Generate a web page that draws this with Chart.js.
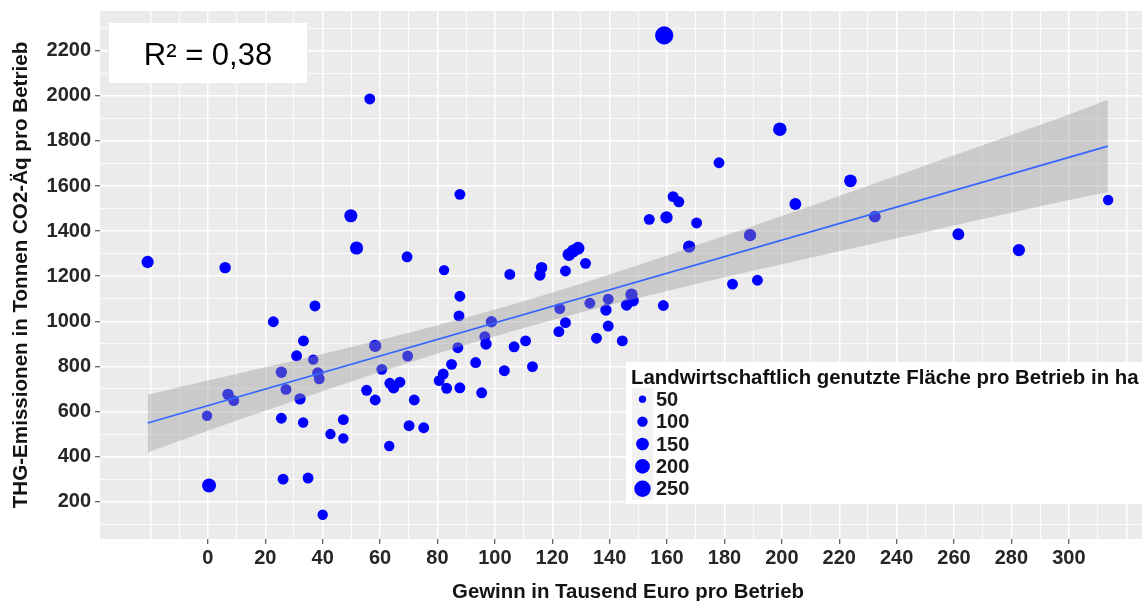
<!DOCTYPE html>
<html>
<head>
<meta charset="utf-8">
<script src="https://cdn.jsdelivr.net/npm/chart.js@4.4.1/dist/chart.umd.min.js"></script>
<style>
  html, body { margin: 0; padding: 0; background: #ffffff; }
  #c { display: block; }
</style>
</head>
<body>
<canvas id="c" width="1142" height="601"></canvas>
<script>
// Profit per farm (thousand EUR)
const profit = [
  -21, 6, -0.3, 0.4, 7, 9, 22.8, 25.6, 25.6, 26.2,
  27.2, 30.9, 33.3, 32.1, 33.2, 34.9, 37.3, 36.7, 38.3, 38.8,
  40, 42.7, 47.2, 47.2, 49.8, 51.8, 55.3, 56.4, 58.3, 58.3,
  60.6, 63.2, 63.4, 64.7, 66.9, 69.4, 69.6, 70.1, 71.9, 75.2,
  80.6, 82, 82.3, 83.2, 84.9, 87.1, 87.5, 87.8, 87.8, 87.8,
  93.3, 95.4, 96.5, 96.9, 98.8, 103.3, 105.2, 106.7, 110.7, 113.1,
  115.7, 116.3, 122.3, 122.6, 124.6, 124.6, 125.8, 127.3, 129, 131.6,
  133.1, 135.4, 138.7, 139.5, 139.5, 144.4, 145.9, 147.6, 148.2, 153.8,
  158.7, 159, 159.8, 162.1, 164.1, 167.7, 170.3, 178.1, 182.8, 188.9,
  191.5, 199.3, 204.7, 223.9, 232.4, 261.5, 282.6, 313.7
];
// GHG emissions per farm (t CO2-eq)
const emissions = [
  1263, 1238, 581, 272, 676, 648, 998, 774, 570, 300,
  698, 847, 913, 656, 551, 305, 1068, 830, 771, 745,
  142, 500, 564, 481, 1468, 1325, 694, 1986, 891, 651,
  787, 447, 725, 705, 730, 1286, 846, 537, 651, 528,
  737, 766, 1227, 703, 809, 883, 1024, 1111, 1563, 705,
  817, 683, 932, 899, 998, 781, 1208, 887, 913, 799,
  1205, 1238, 954, 1056, 994, 1223, 1296, 1312, 1324, 1257,
  1080, 925, 1050, 1098, 979, 913, 1072, 1118, 1091, 1452,
  1070, 2268, 1461, 1553, 1530, 1331, 1436, 1703, 1165, 1382,
  1182, 1852, 1520, 1623, 1464, 1386, 1316, 1538
];
// Agricultural area per farm (ha)
const area = [
  140, 120, 100, 180, 120, 110, 110, 120, 110, 110,
  110, 110, 110, 120, 100, 110, 110, 100, 120, 110,
  100, 100, 110, 100, 160, 160, 110, 110, 140, 110,
  110, 100, 110, 120, 110, 110, 110, 110, 110, 110,
  110, 110, 100, 110, 110, 110, 110, 110, 110, 110,
  110, 110, 110, 120, 120, 110, 110, 110, 110, 110,
  120, 120, 110, 110, 110, 110, 150, 150, 150, 110,
  110, 110, 120, 110, 110, 110, 120, 140, 120, 110,
  110, 310, 140, 110, 110, 140, 110, 110, 110, 140,
  110, 170, 130, 150, 130, 130, 140, 100
];

// Linear fit and its confidence band
const fitX = [-21, 313.6];
const fitY = [549, 1777];
const bandX    = [-21, 0, 20, 40, 60, 80, 100, 120, 140, 160, 180, 200, 220, 240, 260, 280, 300, 313.6];
const bandLow  = [418, 515, 603, 690, 775, 857, 934, 1005, 1072, 1134, 1195, 1253, 1311, 1368, 1425, 1481, 1538, 1572];
const bandHigh = [674, 737, 796, 855, 917, 982, 1052, 1128, 1208, 1292, 1379, 1467, 1556, 1645, 1736, 1826, 1917, 1984];

// Axis labels
const xTickLabels = [0, 20, 40, 60, 80, 100, 120, 140, 160, 180, 200, 220, 240, 260, 280, 300];
const yTickLabels = [200, 400, 600, 800, 1000, 1200, 1400, 1600, 1800, 2000, 2200];
const legendSizes = [50, 100, 150, 200, 250];
const xTitle = 'Gewinn in Tausend Euro pro Betrieb';
const yTitle = 'THG-Emissionen in Tonnen CO2-Äq pro Betrieb';
const legendTitle = 'Landwirtschaftlich genutzte Fläche pro Betrieb in ha';

const xGrid = [];
for (let v = -20; v <= 320; v += 10) xGrid.push(v);
const yGrid = [];
for (let v = 100; v <= 2300; v += 100) yGrid.push(v);

const FONT = "'Liberation Sans', Arial, Helvetica, sans-serif";
Chart.defaults.font.family = FONT;

// point radius from area (area-proportional size scale)
const radiusOf = a => Math.sqrt(0.27 * a);

const pts = profit.map((x, i) => ({ x: x, y: emissions[i] }));
const line = fitX.map((x, i) => ({ x: x, y: fitY[i] }));
const hi = bandX.map((x, i) => ({ x: x, y: bandHigh[i] }));
const lo = bandX.map((x, i) => ({ x: x, y: bandLow[i] }));

// keep the panel edges fixed, without label overhang padding
const noPad = s => { s.paddingLeft = 0; s.paddingRight = 0; s.paddingTop = 0; s.paddingBottom = 0; };

const panelBg = {
  id: 'panelBg',
  beforeDraw(chart) {
    const { ctx, chartArea: a } = chart;
    ctx.save();
    ctx.fillStyle = '#ffffff';
    ctx.fillRect(0, 0, chart.width, chart.height);
    ctx.fillStyle = '#EBEBEB';
    ctx.fillRect(a.left, a.top, a.right - a.left, a.bottom - a.top);
    ctx.restore();
  }
};

const overlays = {
  id: 'overlays',
  afterDraw(chart) {
    const ctx = chart.ctx;
    ctx.save();
    // x axis title (the panel runs on past the right edge, so it sits a bit right of centre)
    ctx.fillStyle = '#141414';
    ctx.font = "bold 20.4px " + FONT;
    ctx.textAlign = 'center';
    ctx.textBaseline = 'alphabetic';
    ctx.fillText(xTitle, 628, 598);

    // R² annotation
    ctx.fillStyle = '#ffffff';
    ctx.fillRect(109, 23, 198, 60);
    ctx.fillStyle = '#000000';
    ctx.font = "31px " + FONT;
    ctx.textAlign = 'center';
    ctx.fillText('R² = 0,38', 208, 64.5);

    // size legend
    ctx.fillStyle = '#ffffff';
    ctx.fillRect(626, 362, 520, 142);
    ctx.fillStyle = '#111111';
    ctx.font = "bold 20.4px " + FONT;
    ctx.textAlign = 'left';
    ctx.textBaseline = 'middle';
    ctx.fillText(legendTitle, 631, 378);
    const keyTop = 388;
    const keyH = 22.4;
    ctx.font = "bold 20px " + FONT;
    legendSizes.forEach((s, i) => {
      const cy = keyTop + keyH * i + keyH / 2;
      ctx.fillStyle = '#F2F2F2';
      ctx.fillRect(632, keyTop + keyH * i, 21, keyH);
      ctx.fillStyle = '#0000FF';
      ctx.beginPath();
      ctx.arc(642.5, cy, radiusOf(s), 0, Math.PI * 2);
      ctx.fill();
      ctx.fillStyle = '#1a1a1a';
      ctx.fillText(String(s), 656, cy + 1);
    });
    ctx.restore();
  }
};

new Chart(document.getElementById('c'), {
  type: 'scatter',
  data: {
    datasets: [
      {
        data: line, showLine: true, borderColor: '#3366FF', borderWidth: 1.7,
        pointRadius: 0, fill: false, order: 0
      },
      {
        data: hi, showLine: true, borderColor: 'rgba(0,0,0,0)', borderWidth: 0,
        pointRadius: 0, fill: { target: 2 }, backgroundColor: 'rgba(153,153,153,0.4)',
        cubicInterpolationMode: 'monotone', order: 1
      },
      {
        data: lo, showLine: true, borderColor: 'rgba(0,0,0,0)', borderWidth: 0,
        pointRadius: 0, fill: false, cubicInterpolationMode: 'monotone', order: 1
      },
      {
        data: pts, backgroundColor: '#0000FF', borderWidth: 0,
        pointRadius: area.map(radiusOf), pointHoverRadius: area.map(radiusOf), order: 2
      }
    ]
  },
  options: {
    responsive: false,
    animation: false,
    devicePixelRatio: 1,
    layout: { autoPadding: false, padding: { top: 11, left: 0, right: 0, bottom: 0 } },
    plugins: { legend: { display: false }, tooltip: { enabled: false } },
    scales: {
      x: {
        type: 'linear', min: -37.6, max: 325.5,
        afterBuildTicks: s => { s.ticks = xGrid.map(v => ({ value: v })); },
        afterFit: s => { s.height = 62; noPad(s); },
        border: { display: false },
        grid: {
          color: '#ffffff',
          lineWidth: c => (c.tick && c.tick.value % 20 === 0) ? 1.4 : 0.8,
          tickLength: 5,
          tickWidth: 1.2,
          tickColor: c => (c.tick && xTickLabels.includes(c.tick.value)) ? '#555555' : 'rgba(0,0,0,0)'
        },
        ticks: {
          autoSkip: false, maxRotation: 0, padding: 2,
          color: '#262626', font: { size: 20, weight: 'bold' },
          callback: v => xTickLabels.includes(v) ? String(v) : ''
        },
        title: { display: false }
      },
      y: {
        type: 'linear', min: 34.6, max: 2376,
        afterBuildTicks: s => { s.ticks = yGrid.map(v => ({ value: v })); },
        afterFit: s => { s.width = 100; noPad(s); },
        border: { display: false },
        grid: {
          color: '#ffffff',
          lineWidth: c => (c.tick && c.tick.value % 200 === 0) ? 1.4 : 0.8,
          tickLength: 5,
          tickWidth: 1.2,
          tickColor: c => (c.tick && yTickLabels.includes(c.tick.value)) ? '#555555' : 'rgba(0,0,0,0)'
        },
        ticks: {
          autoSkip: false, padding: 4,
          color: '#262626', font: { size: 20, weight: 'bold' },
          callback: v => yTickLabels.includes(v) ? String(v) : ''
        },
        title: {
          display: true, text: yTitle,
          color: '#141414', font: { size: 20.6, weight: 'bold', lineHeight: 1 },
          padding: { top: 11, bottom: 0 }
        }
      }
    }
  },
  plugins: [panelBg, overlays]
});
</script>
</body>
</html>
